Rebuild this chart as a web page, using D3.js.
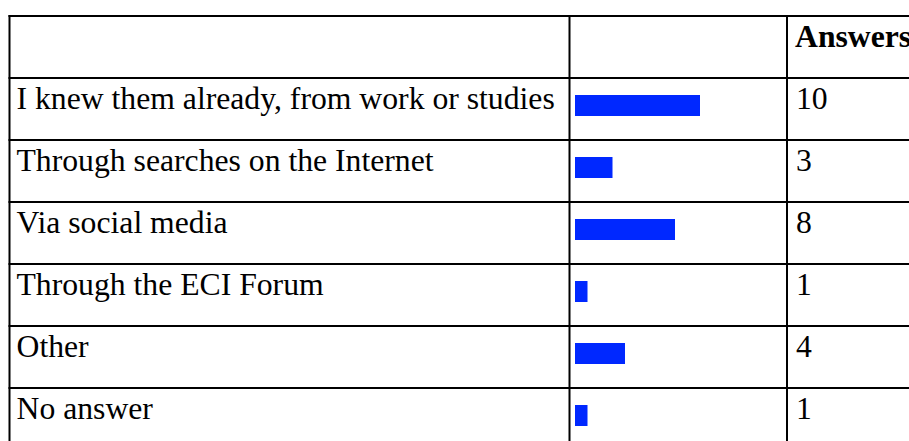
<!DOCTYPE html>
<html>
<head>
<meta charset="utf-8">
<script src="https://cdn.jsdelivr.net/npm/d3@7"></script>
<style>
  body { margin: 0; background: #fff; }
  text { font-family: "Liberation Serif", "Times New Roman", serif; font-size: 31.7px; fill: #000; }
</style>
</head>
<body>
<div id="chart"></div>
<script>
var svgWidth = 909;
var svgHeight = 441;

// data
var categories = [
    'I knew them already, from work or studies',
    'Through searches on the Internet',
    'Via social media',
    'Through the ECI Forum',
    'Other',
    'No answer'
];
var answers = [10, 3, 8, 1, 4, 1];
var headerLabel = 'Answers';

var top0 = 16;
var rowH = 62;
var colX = [9.5, 569.5, 787];
var rightEdge = 930;

var svg = d3.select('#chart').append('svg')
    .attr('width', svgWidth)
    .attr('height', svgHeight)

var yScale = d3.scaleBand()
    .domain(categories)
    .range([top0 + rowH, top0 + rowH * (categories.length + 1)])
    .padding(0)

var xScale = d3.scaleLinear()
    .domain([0, 10])
    .range([0, 125])

var barX = 575;

// bars
svg.selectAll('.bar')
    .data(categories)
    .enter()
    .append('rect')
    .classed('bar', true)
    .attr('x', barX)
    .attr('y', d => yScale(d) + 17)
    .attr('width', (d, i) => xScale(answers[i]))
    .attr('height', 21)
    .attr('fill', '#0028ff')

// row labels
svg.selectAll('.label')
    .data(categories)
    .enter()
    .append('text')
    .classed('label', true)
    .attr('x', 16.5)
    .attr('y', d => yScale(d) + 30.7)
    .text(d => d)

// values
svg.selectAll('.value')
    .data(categories)
    .enter()
    .append('text')
    .classed('value', true)
    .attr('x', 796)
    .attr('y', d => yScale(d) + 30.5)
    .text((d, i) => answers[i])

svg.append('text')
    .attr('x', 795)
    .attr('y', top0 + 30.5)
    .style('font-weight', 'bold')
    .text(headerLabel)

// grid lines
var hLines = [top0].concat(categories.map(d => yScale(d))).concat([yScale(categories[categories.length - 1]) + rowH])
svg.selectAll('.hline')
    .data(hLines)
    .enter()
    .append('line')
    .attr('x1', colX[0] - 1)
    .attr('x2', rightEdge)
    .attr('y1', d => d)
    .attr('y2', d => d)
    .attr('stroke', '#000')
    .attr('stroke-width', 2)

svg.selectAll('.vline')
    .data(colX)
    .enter()
    .append('line')
    .attr('x1', d => d)
    .attr('x2', d => d)
    .attr('y1', top0 - 1)
    .attr('y2', svgHeight + 20)
    .attr('stroke', '#000')
    .attr('stroke-width', 2)
</script>
</body>
</html>
